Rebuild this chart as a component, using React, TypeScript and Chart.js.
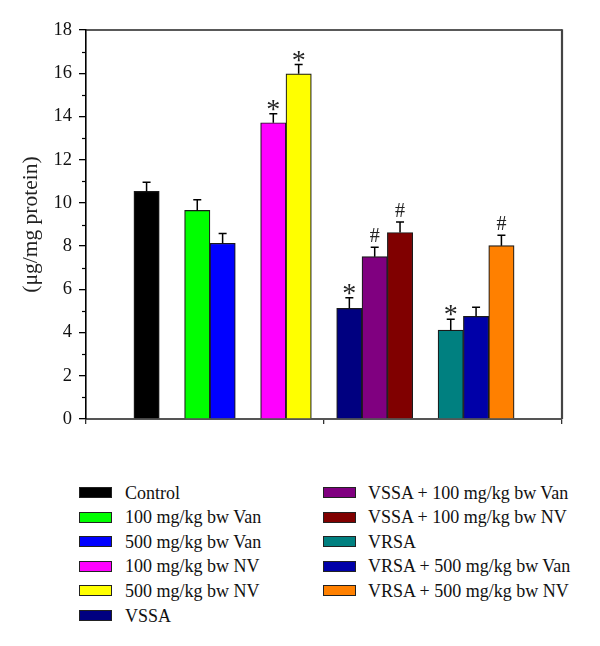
import React, { useEffect, useRef } from "react";
import { Chart, registerables } from "chart.js";

Chart.register(...registerables);

// ---- data ----
const categories = [
  "Control",
  "100 mg/kg bw Van",
  "500 mg/kg bw Van",
  "100 mg/kg bw NV",
  "500 mg/kg bw NV",
  "VSSA",
  "VSSA + 100 mg/kg bw Van",
  "VSSA + 100 mg/kg bw NV",
  "VRSA",
  "VRSA + 500 mg/kg bw Van",
  "VRSA + 500 mg/kg bw NV",
];
const values = [10.53, 9.65, 8.13, 13.71, 15.97, 5.12, 7.51, 8.63, 4.11, 4.75, 8.02];
const errors = [0.42, 0.5, 0.45, 0.42, 0.43, 0.49, 0.44, 0.48, 0.5, 0.42, 0.48];
const marks = ["", "", "", "*", "*", "*", "#", "#", "*", "", "#"];
const clusterSizes = [1, 2, 2, 3, 3];
const yTickValues = [0, 2, 4, 6, 8, 10, 12, 14, 16, 18];
const yMinorTickValues = [1, 3, 5, 7, 9, 11, 13, 15, 17];
const yAxisTitle = "(μg/mg protein)";

const colors = [
  "#000000",
  "#00ff00",
  "#0000ff",
  "#ff00ff",
  "#ffff00",
  "#000080",
  "#800080",
  "#800000",
  "#008080",
  "#0000a8",
  "#ff8000",
];

// slot positions derived from cluster structure (one empty slot between clusters)
const slots: number[] = [];
{
  let s = 0;
  clusterSizes.forEach((n) => {
    for (let i = 0; i < n; i++) slots.push(s++);
    s++;
  });
}
const lastSlot = slots[slots.length - 1];
const xMargin = 2.39;

const FONT = "'Liberation Serif', 'Times New Roman', serif";

const extrasPlugin = {
  id: "extras",
  afterDraw(chart: any) {
    const { ctx, chartArea } = chart;
    const y = chart.scales.y;
    ctx.save();
    // minor ticks
    ctx.strokeStyle = "#000";
    ctx.lineWidth = 1.2;
    yMinorTickValues.forEach((v) => {
      const py = Math.round(y.getPixelForValue(v)) + 0.5;
      ctx.beginPath();
      ctx.moveTo(chartArea.left - 4, py);
      ctx.lineTo(chartArea.left, py);
      ctx.stroke();
    });
    // frame top and right
    ctx.strokeStyle = "#222";
    ctx.lineWidth = 1.6;
    ctx.beginPath();
    ctx.moveTo(chartArea.left, chartArea.top);
    ctx.lineTo(chartArea.right, chartArea.top);
    ctx.stroke();
    ctx.strokeStyle = "#444";
    ctx.lineWidth = 2.2;
    ctx.beginPath();
    ctx.moveTo(chartArea.right, chartArea.top - 0.8);
    ctx.lineTo(chartArea.right, chartArea.bottom);
    ctx.stroke();
    ctx.restore();
  },
  afterDatasetsDraw(chart: any) {
    const { ctx } = chart;
    const y = chart.scales.y;
    const meta = chart.getDatasetMeta(0);
    ctx.save();
    meta.data.forEach((bar: any, i: number) => {
      const top = y.getPixelForValue(values[i]);
      const et = y.getPixelForValue(values[i] + errors[i]);
      ctx.strokeStyle = "#000";
      ctx.lineWidth = 1.5;
      ctx.beginPath();
      ctx.moveTo(bar.x, top);
      ctx.lineTo(bar.x, et);
      ctx.moveTo(bar.x - 4, et);
      ctx.lineTo(bar.x + 4, et);
      ctx.stroke();
      const m = marks[i];
      if (m) {
        ctx.fillStyle = "#222";
        ctx.textAlign = "center";
        ctx.textBaseline = "alphabetic";
        if (m === "*") {
          ctx.font = `28px ${FONT}`;
          ctx.fillText(m, bar.x, et + 4);
        } else {
          ctx.font = `20px ${FONT}`;
          ctx.fillText(m, bar.x, et - 5);
        }
      }
    });
    ctx.restore();
  },
};

function ChartCanvas() {
  const ref = useRef<HTMLCanvasElement | null>(null);
  useEffect(() => {
    if (!ref.current) return;
    const chart = new Chart(ref.current, {
      type: "bar",
      data: {
        datasets: [
          {
            label: "values",
            data: values.map((v, i) => ({ x: slots[i], y: v })),
            backgroundColor: colors,
            borderColor: "#1a1a1a",
            borderWidth: 1.2,
            borderSkipped: "bottom",
            barPercentage: 1,
            categoryPercentage: 1,
          },
        ],
      },
      options: {
        responsive: false,
        animation: false,
        layout: { padding: { left: 0, top: 30, right: 38, bottom: 0 } },
        plugins: { legend: { display: false }, tooltip: { enabled: false } },
        scales: {
          x: {
            type: "linear",
            min: -xMargin,
            max: lastSlot + xMargin,
            offset: false,
            afterBuildTicks: (scale: any) => {
              scale.ticks = [
                { value: -xMargin },
                { value: lastSlot / 2 },
                { value: lastSlot + xMargin },
              ];
            },
            afterFit: (scale: any) => {
              scale.height = 21;
            },
            ticks: { callback: () => "" },
            grid: {
              offset: false,
              drawOnChartArea: false,
              drawTicks: true,
              tickLength: 5,
              color: "#333",
              lineWidth: 1.3,
            },
            border: { color: "#555", width: 2 },
          },
          y: {
            type: "linear",
            min: 0,
            max: 18,
            afterBuildTicks: (scale: any) => {
              scale.ticks = yTickValues.map((v) => ({ value: v }));
            },
            afterFit: (scale: any) => {
              scale.width = 86;
            },
            ticks: {
              color: "#111",
              padding: 7,
              font: { family: FONT, size: 18.5 },
            },
            grid: {
              drawOnChartArea: false,
              drawTicks: true,
              tickLength: 7,
              color: "#000",
              lineWidth: 1.3,
            },
            border: { color: "#000", width: 1.6 },
            title: {
              display: true,
              text: yAxisTitle,
              color: "#222",
              font: { family: FONT, size: 21.5 },
              padding: { top: 18.5, bottom: 0 },
            },
          },
        },
      },
      plugins: [extrasPlugin],
    } as any);
    return () => chart.destroy();
  }, []);
  return <canvas ref={ref} width={600} height={440} style={{ display: "block" }} />;
}

function Legend() {
  const rowTop = 492.5;
  const rowGap = 24.6;
  const perCol = 6;
  return (
    <>
      {categories.map((c, i) => {
        const col = i < perCol ? 0 : 1;
        const row = col === 0 ? i : i - perCol;
        const swX = col === 0 ? 79 : 323;
        const txX = col === 0 ? 125 : 368;
        const cy = rowTop + row * rowGap;
        return (
          <React.Fragment key={c}>
            <div
              style={{
                position: "absolute",
                left: swX,
                top: cy - 5.5,
                width: 33,
                height: 11,
                boxSizing: "border-box",
                border: "1px solid #222",
                background: colors[i],
              }}
            />
            <div
              style={{
                position: "absolute",
                left: txX,
                top: cy - 12,
                height: 24,
                lineHeight: "24px",
                fontFamily: FONT,
                fontSize: 18,
                color: "#111",
                whiteSpace: "nowrap",
              }}
            >
              {c}
            </div>
          </React.Fragment>
        );
      })}
    </>
  );
}

export default function App() {
  return (
    <div
      style={{
        position: "absolute",
        left: 0,
        top: 0,
        width: 600,
        height: 646,
        background: "#fff",
        overflow: "hidden",
      }}
    >
      <ChartCanvas />
      <Legend />
    </div>
  );
}
